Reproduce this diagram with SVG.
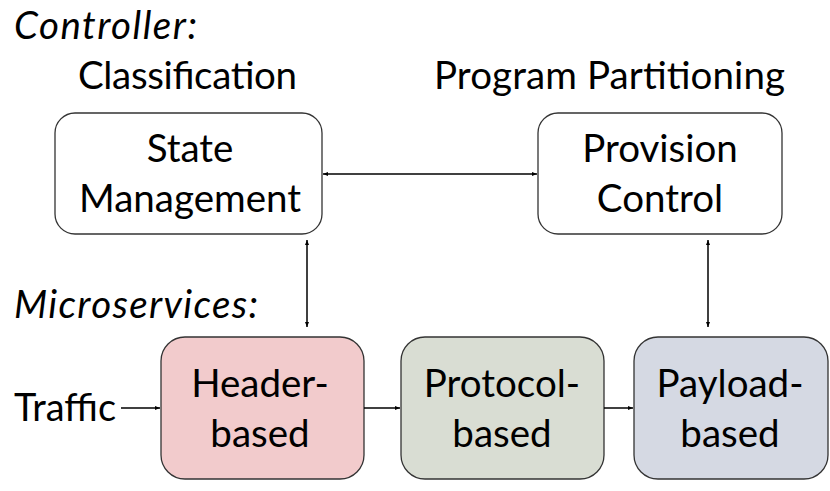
<svg xmlns="http://www.w3.org/2000/svg" width="830" height="491" viewBox="0 0 830 491">
<defs>
<marker id="ah" viewBox="0 0 10 10" refX="10" refY="5" markerWidth="5" markerHeight="5" orient="auto-start-reverse" markerUnits="userSpaceOnUse">
<path d="M0,1 L10,5 L0,9 z" fill="#000"/>
</marker>
<style>
text{font-family:Lato,"Open Sans","Liberation Sans",sans-serif;font-size:38.5px;fill:#000}
.c{text-anchor:middle}
.i{font-style:italic}
.box{stroke:#333;stroke-width:1.3}
.ln{stroke:#000;stroke-width:1.5;fill:none}
</style>
</defs>
<rect width="830" height="491" fill="#fff"/>
<text class="i" x="14" y="39" textLength="183" lengthAdjust="spacing">Controller:</text>
<text x="78" y="89" textLength="219" lengthAdjust="spacing">Classification</text>
<text x="434" y="89" textLength="351" lengthAdjust="spacing">Program Partitioning</text>
<text class="i" x="14" y="318" textLength="244" lengthAdjust="spacing">Microservices:</text>
<text x="14" y="421" textLength="102" lengthAdjust="spacingAndGlyphs">Traffic</text>
<g id="state">
<rect class="box" x="55" y="113" width="267" height="121" rx="20" fill="#fff"/>
<text class="c" x="190" y="162">State</text>
<text class="c" x="190" y="212">Management</text>
</g>
<g id="provision">
<rect class="box" x="538" y="113" width="244" height="121" rx="20" fill="#fff"/>
<text class="c" x="660" y="162">Provision</text>
<text class="c" x="660" y="212">Control</text>
</g>
<g id="header">
<rect class="box" x="161" y="337" width="203" height="142" rx="24" fill="#f2cbcc"/>
<text class="c" x="260" y="397">Header-</text>
<text class="c" x="260" y="447">based</text>
</g>
<g id="protocol">
<rect class="box" x="401" y="337" width="203" height="142" rx="24" fill="#d9ddd3"/>
<text class="c" x="502" y="397">Protocol-</text>
<text class="c" x="502" y="447">based</text>
</g>
<g id="payload">
<rect class="box" x="634" y="337" width="194" height="142" rx="24" fill="#d5d9e3"/>
<text class="c" x="730" y="397">Payload-</text>
<text class="c" x="730" y="447">based</text>
</g>
<g id="connectors">
<line class="ln" x1="323" y1="174" x2="537" y2="174" marker-start="url(#ah)" marker-end="url(#ah)"/>
<line class="ln" x1="307" y1="240" x2="307" y2="327" marker-start="url(#ah)" marker-end="url(#ah)"/>
<line class="ln" x1="708" y1="240" x2="708" y2="327" marker-start="url(#ah)" marker-end="url(#ah)"/>
<line class="ln" x1="121" y1="408" x2="160" y2="408" marker-end="url(#ah)"/>
<line class="ln" x1="364" y1="408" x2="400" y2="408" marker-end="url(#ah)"/>
<line class="ln" x1="604" y1="408" x2="633" y2="408" marker-end="url(#ah)"/>
</g>
</svg>
